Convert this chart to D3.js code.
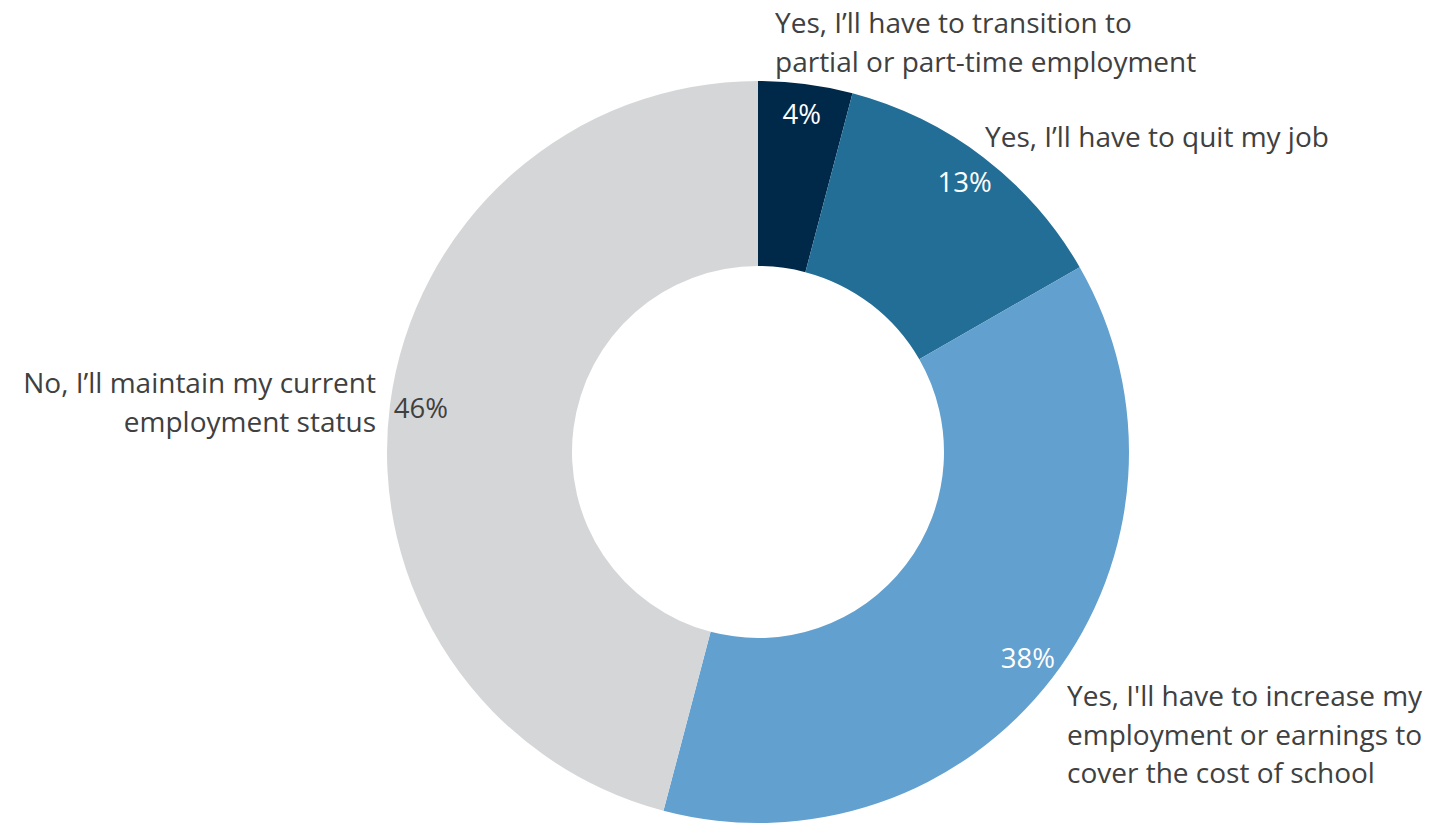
<!DOCTYPE html>
<html><head><meta charset="utf-8">
<script src="https://cdn.jsdelivr.net/npm/d3@7"></script>
<style>body{margin:0;background:#fff}svg{display:block}</style>
</head><body>
<svg id="c" width="1429" height="823"></svg>
<script>
const categories = [
  "Yes, I’ll have to transition to partial or part-time employment",
  "Yes, I’ll have to quit my job",
  "Yes, I'll have to increase my employment or earnings to cover the cost of school",
  "No, I’ll maintain my current employment status"
];
const values = [4.1, 12.6, 37.4, 45.9];
const valueLabels = ["4%", "13%", "38%", "46%"];
const colors = ["#002849", "#236e96", "#62a0cf", "#d5d6d8"];
const labelColors = ["#ffffff", "#ffffff", "#ffffff", "#404040"];
const labelLines = [
  ["Yes, I’ll have to transition to", "partial or part-time employment"],
  ["Yes, I’ll have to quit my job"],
  ["Yes, I'll have to increase my", "employment or earnings to", "cover the cost of school"],
  ["No, I’ll maintain my current", "employment status"]
];
// layout (not data)
const cx = 758, cy = 452, R = 371, r0 = 186, rLab = 340;
const catPos = [
  {x: 775, y: 33, anchor: "start"},
  {x: 985, y: 147, anchor: "start"},
  {x: 1067, y: 706, anchor: "start"},
  {x: 376, y: 393, anchor: "end"}
];
const lineH = 38.5;
const font = "'Open Sans', sans-serif";
const fs = 28;

const svg = d3.select("#c");
const g = svg.append("g").attr("transform", `translate(${cx},${cy})`);
const pie = d3.pie().sort(null).value(d => d)(values);
const arc = d3.arc().innerRadius(r0).outerRadius(R);
g.selectAll("path").data(pie).join("path")
  .attr("d", arc).attr("fill", (d,i) => colors[i]);

const labArc = d3.arc().innerRadius(rLab).outerRadius(rLab);
g.selectAll("text.v").data(pie).join("text").attr("class","v")
  .attr("x", d => labArc.centroid(d)[0])
  .attr("y", d => labArc.centroid(d)[1])
  .attr("dy", "0.35em")
  .attr("text-anchor", "middle")
  .attr("font-family", font).attr("font-size", 27.5)
  .attr("fill", (d,i) => labelColors[i])
  .text((d,i) => valueLabels[i]);

categories.forEach((c, i) => {
  const t = svg.append("text")
    .attr("x", catPos[i].x).attr("y", catPos[i].y)
    .attr("text-anchor", catPos[i].anchor)
    .attr("font-family", font).attr("font-size", fs)
    .attr("fill", "#404040");
  labelLines[i].forEach((ln, j) => {
    t.append("tspan").attr("x", catPos[i].x).attr("y", catPos[i].y + j*lineH).text(ln);
  });
});
</script>
</body></html>
